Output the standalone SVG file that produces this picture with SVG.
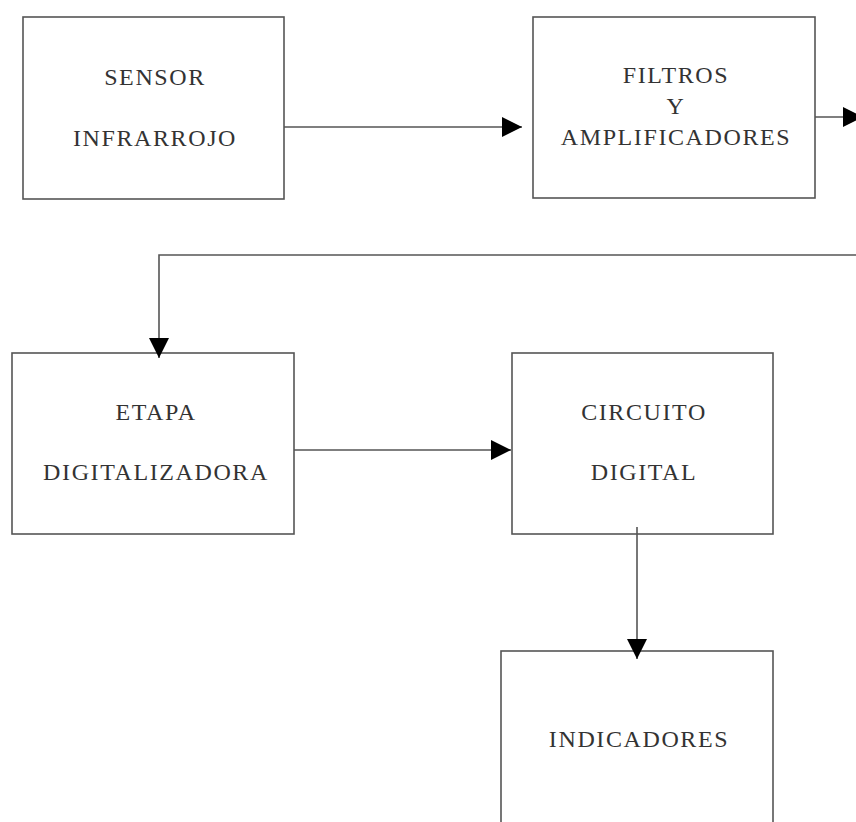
<svg xmlns="http://www.w3.org/2000/svg" width="856" height="822" viewBox="0 0 856 822">
<style>
.box{fill:#fff;stroke:#555;stroke-width:1.6}
.lbl{font-family:"Liberation Serif","Times New Roman",serif;font-size:24px;letter-spacing:1.6px;fill:#333;text-anchor:middle}
.con{fill:none;stroke:#555;stroke-width:1.6}
</style>
<defs>
<marker id="ah" markerWidth="20" markerHeight="20" viewBox="0 0 20 20" refX="20" refY="10" orient="auto" markerUnits="userSpaceOnUse">
<path d="M0,0 L20,10 L0,20 Z" fill="#000"/>
</marker>
</defs>
<rect width="856" height="822" fill="#fff"/>
<g id="sensor">
<rect class="box" x="23" y="17" width="261" height="182"/>
<text class="lbl" x="155" y="85">SENSOR</text>
<text class="lbl" x="155" y="146">INFRARROJO</text>
</g>
<g id="filtros">
<rect class="box" x="533" y="17" width="282" height="181"/>
<text class="lbl" x="676" y="83">FILTROS</text>
<text class="lbl" x="676" y="114">Y</text>
<text class="lbl" x="676" y="145">AMPLIFICADORES</text>
</g>
<g id="etapa">
<rect class="box" x="12" y="353" width="282" height="181"/>
<text class="lbl" x="156" y="420">ETAPA</text>
<text class="lbl" x="156" y="480">DIGITALIZADORA</text>
</g>
<g id="circuito">
<rect class="box" x="512" y="353" width="261" height="181"/>
<text class="lbl" x="644" y="420">CIRCUITO</text>
<text class="lbl" x="644" y="480">DIGITAL</text>
</g>
<g id="indicadores">
<rect class="box" x="501" y="651" width="272" height="200"/>
<text class="lbl" x="639" y="747">INDICADORES</text>
</g>
<g id="connectors">
<line class="con" x1="284" y1="127" x2="522" y2="127" marker-end="url(#ah)"/>
<line class="con" x1="815" y1="117" x2="863" y2="117" marker-end="url(#ah)"/>
<polyline class="con" points="856,255 159,255 159,358" marker-end="url(#ah)"/>
<line class="con" x1="294" y1="450" x2="511" y2="450" marker-end="url(#ah)"/>
<line class="con" x1="637" y1="527" x2="637" y2="659" marker-end="url(#ah)"/>
</g>
</svg>
